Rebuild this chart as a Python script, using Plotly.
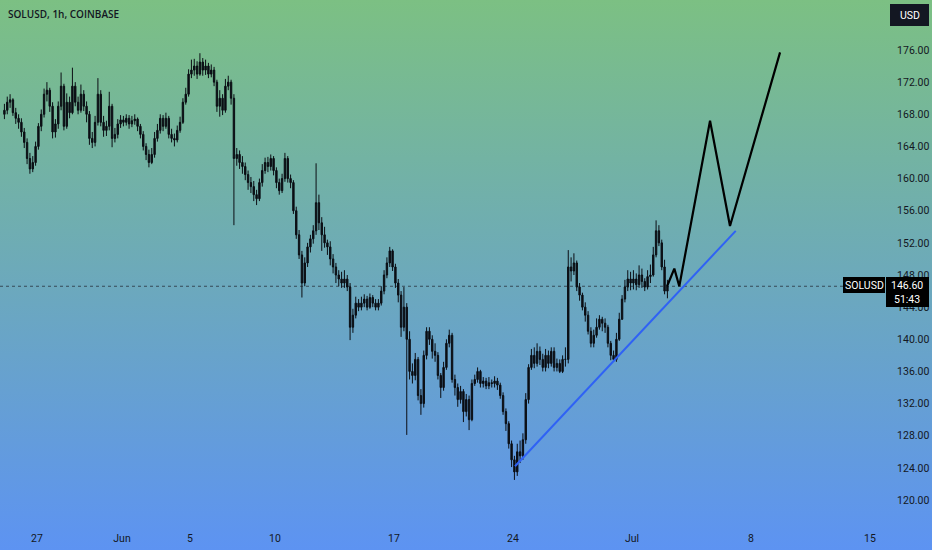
import base64
import pandas as pd
import plotly.graph_objects as go

# ---------------- data (4h candles) ----------------
first_open = 168.0
closes = [
    168.5, 169.5, 169.8, 168.2, 167.5, 167.0,   # May 25
    165.8, 164.5, 162.5, 161.2, 162.0, 164.0,   # May 26
    166.5, 168.0, 170.5, 171.0, 169.0, 165.8,   # May 27
    166.8, 169.0, 171.5, 166.5, 169.5, 168.2,   # May 28
    171.5, 169.5, 168.5, 170.5, 169.0, 168.0,   # May 29
    165.0, 164.5, 167.0, 170.5, 167.0, 166.0,   # May 30
    166.5, 169.0, 165.0, 165.5, 166.8, 167.3,   # May 31
    167.0, 167.5, 166.8, 167.2, 167.4, 166.5,   # Jun 1
    165.5, 164.0, 163.0, 162.0, 163.0, 165.0,   # Jun 2
    166.0, 167.5, 166.5, 167.5, 165.5, 165.0,   # Jun 3
    164.8, 166.0, 167.0, 169.5, 170.5, 173.0,   # Jun 4
    173.5, 174.0, 173.0, 174.5, 173.5, 174.0,   # Jun 5
    173.0, 173.5, 172.0, 169.0, 170.0, 168.5,   # Jun 6
    171.5, 172.0, 170.0, 162.5, 163.0, 162.0,   # Jun 7
    161.5, 160.5, 159.5, 159.0, 158.0, 157.5,   # Jun 8
    159.5, 161.0, 162.0, 161.5, 162.5, 161.0,   # Jun 9
    159.5, 158.5, 160.0, 162.5, 160.0, 159.5,   # Jun 10
    156.0, 153.0, 150.5, 147.0, 149.5, 151.5,   # Jun 11
    152.5, 153.5, 157.0, 154.5, 153.0, 152.0,   # Jun 12
    151.5, 150.0, 149.0, 148.0, 147.5, 147.0,   # Jun 13
    147.5, 146.5, 141.5, 143.0, 144.5, 144.0,   # Jun 14
    144.5, 145.0, 144.0, 145.2, 144.5, 144.0,   # Jun 15
    144.5, 146.0, 148.0, 149.5, 151.0, 149.0,   # Jun 16
    147.0, 145.5, 141.5, 144.0, 140.0, 136.0,   # Jun 17
    135.5, 137.5, 133.0, 132.0, 138.0, 141.0,   # Jun 18
    140.0, 138.5, 138.0, 135.5, 134.0, 136.5,   # Jun 19
    139.5, 140.5, 135.0, 134.0, 132.5, 133.5,   # Jun 20
    131.0, 132.5, 130.0, 134.5, 135.0, 136.0,   # Jun 21
    134.5, 134.8, 134.2, 134.6, 134.5, 134.8,   # Jun 22
    134.3, 133.0, 131.0, 129.5, 127.0, 125.0,   # Jun 23
    123.5, 126.0, 125.5, 127.5, 132.5, 136.5,   # Jun 24
    138.0, 137.0, 138.5, 137.5, 136.5, 138.0,   # Jun 25
    137.0, 138.5, 136.5, 137.0, 136.0, 137.5,   # Jun 26
    137.5, 149.0, 148.5, 149.5, 146.5, 145.5,   # Jun 27
    144.0, 143.0, 141.0, 139.5, 140.5, 141.5,   # Jun 28
    142.5, 142.0, 141.5, 139.5, 138.0, 137.5,   # Jun 29
    140.0, 142.5, 145.0, 146.5, 147.5, 147.0,   # Jun 30
    147.5, 146.8, 148.0, 147.2, 146.5, 147.8,   # Jul 1
    148.0, 150.5, 153.5, 152.0, 149.0, 146.0,   # Jul 2
    146.6,                                      # Jul 3
]
highs = [
    169.3, 170.2, 170.5, 170.0, 168.8, 168.0,
    167.5, 166.3, 165.0, 163.2, 162.8, 164.6,
    166.9, 168.6, 171.2, 172.0, 171.3, 169.5,
    167.4, 169.6, 173.2, 171.8, 170.6, 170.2,
    173.8, 172.0, 170.2, 171.7, 171.0, 169.6,
    168.4, 165.8, 167.8, 172.5, 171.0, 167.8,
    167.2, 170.8, 169.3, 166.3, 167.4, 167.9,
    167.8, 168.0, 167.9, 167.8, 168.0, 167.6,
    166.8, 165.9, 164.4, 163.6, 163.8, 165.8,
    166.8, 168.0, 167.9, 168.2, 167.8, 166.2,
    165.6, 166.6, 167.7, 170.0, 171.3, 173.6,
    174.8, 174.9, 174.6, 175.6, 175.0, 174.8,
    174.4, 174.2, 173.9, 172.3, 171.0, 170.5,
    172.4, 172.8, 172.3, 170.5, 163.8, 163.5,
    162.8, 162.0, 161.0, 160.2, 159.7, 158.6,
    160.0, 161.8, 162.6, 162.7, 163.0, 162.8,
    161.4, 160.0, 160.6, 163.2, 162.8, 160.5,
    159.8, 156.5, 153.6, 151.0, 150.2, 152.0,
    153.0, 154.2, 161.9, 158.0, 155.2, 154.0,
    152.4, 152.2, 150.6, 149.5, 148.6, 148.4,
    148.6, 148.0, 147.0, 143.8, 145.3, 145.0,
    145.3, 145.6, 145.4, 145.7, 145.5, 145.0,
    145.0, 146.6, 148.6, 150.2, 151.5, 151.2,
    149.4, 147.5, 146.0, 146.5, 144.5, 141.0,
    137.0, 138.3, 137.8, 133.8, 138.6, 141.5,
    141.5, 140.5, 139.5, 138.4, 135.8, 137.2,
    140.0, 141.2, 140.8, 135.6, 134.5, 134.2,
    133.8, 133.2, 133.0, 135.0, 135.6, 136.5,
    136.2, 135.3, 135.2, 135.3, 135.0, 135.4,
    135.2, 134.6, 133.4, 131.4, 129.8, 127.4,
    125.5, 127.0, 127.4, 128.3, 133.3, 136.9,
    138.8, 139.0, 139.5, 139.1, 138.2, 138.8,
    138.6, 139.0, 139.0, 137.6, 137.5, 138.0,
    139.0, 151.1, 150.2, 150.7, 149.8, 147.0,
    145.8, 144.6, 143.5, 141.5, 141.2, 142.6,
    143.0, 142.8, 142.6, 141.8, 139.8, 138.6,
    140.8, 143.3, 145.5, 147.4, 148.6, 148.4,
    148.6, 148.2, 149.2, 148.8, 147.6, 148.6,
    149.3, 151.5, 154.8, 154.2, 152.4, 149.9,
    147.4,
]
lows = [
    167.4, 168.0, 168.8, 167.8, 166.8, 166.2,
    165.2, 163.8, 161.8, 160.6, 160.8, 161.6,
    163.6, 165.9, 167.6, 169.6, 168.3, 165.0,
    165.1, 166.2, 168.5, 166.0, 166.2, 167.5,
    168.0, 169.0, 168.0, 168.2, 168.4, 167.0,
    164.2, 163.8, 164.0, 166.6, 166.5, 165.2,
    165.3, 166.0, 163.9, 164.5, 165.0, 166.3,
    166.5, 166.6, 166.2, 166.4, 166.7, 165.9,
    165.0, 163.5, 162.3, 161.4, 161.8, 162.6,
    164.6, 165.6, 165.9, 166.2, 165.0, 164.5,
    164.0, 164.5, 165.7, 166.8, 169.2, 170.2,
    172.5, 172.8, 172.4, 172.8, 172.8, 172.9,
    172.5, 172.6, 171.5, 168.3, 167.7, 167.9,
    168.2, 171.0, 169.2, 154.2, 161.6, 161.2,
    160.6, 159.8, 158.6, 158.2, 157.2, 156.7,
    157.2, 159.0, 160.6, 160.8, 161.0, 160.4,
    158.8, 158.0, 158.2, 159.6, 159.5, 158.8,
    155.6, 152.5, 150.0, 145.2, 146.6, 149.0,
    150.8, 151.9, 153.0, 153.6, 151.0, 151.4,
    150.5, 149.2, 148.2, 147.0, 146.6, 146.4,
    146.4, 146.0, 139.9, 140.8, 142.6, 143.5,
    143.6, 144.0, 143.6, 143.8, 144.0, 143.6,
    143.6, 144.2, 145.6, 147.6, 149.0, 148.5,
    146.4, 144.6, 140.3, 141.0, 128.1, 135.0,
    134.5, 134.9, 132.4, 130.6, 131.5, 137.5,
    139.3, 137.6, 137.2, 135.0, 132.7, 133.6,
    136.2, 139.0, 134.6, 133.0, 131.6, 132.0,
    129.7, 130.4, 128.7, 129.8, 134.2, 134.6,
    134.0, 134.0, 133.8, 133.8, 134.0, 134.0,
    133.7, 132.6, 130.6, 128.6, 126.4, 124.1,
    122.5, 123.0, 124.6, 125.0, 127.0, 132.0,
    136.2, 136.4, 136.6, 136.8, 136.0, 136.0,
    136.4, 136.6, 136.0, 136.0, 135.8, 135.8,
    136.6, 137.0, 147.2, 148.0, 146.0, 144.8,
    143.6, 142.2, 140.6, 139.0, 139.0, 140.2,
    141.2, 141.0, 140.8, 139.0, 137.4, 137.2,
    137.2, 139.8, 142.4, 144.6, 146.0, 146.1,
    146.2, 146.1, 146.4, 146.4, 146.0, 146.2,
    147.0, 147.8, 150.2, 151.6, 148.6, 145.6,
    145.1,
]
opens = [first_open] + closes[:-1]
candle_times = pd.date_range("2024-05-25 02:00", periods=len(closes), freq="4h")

# projected path (black) and trend line (blue)
proj_dates = ["2024-07-03 01:30", "2024-07-03 11:45", "2024-07-03 18:45",
              "2024-07-05 14:10", "2024-07-06 18:20", "2024-07-09 17:00"]
proj_prices = [146.6, 148.8, 146.6, 167.2, 154.1, 175.7]
trend_dates = ["2024-06-24 02:50", "2024-07-07 02:25"]
trend_prices = [124.2, 153.5]

last_price = 146.60
price_ticks = [120, 124, 128, 132, 136, 140, 144, 148, 152, 156, 160, 164, 168, 172, 176]
date_ticks = ["2024-05-27", "2024-06-01", "2024-06-05", "2024-06-10", "2024-06-17",
              "2024-06-24", "2024-07-01", "2024-07-08", "2024-07-15"]
date_tick_labels = ["27", "Jun", "5", "10", "17", "24", "Jul", "8", "15"]

# ---------------- layout geometry ----------------
W, H = 932, 550
PLOT_W, PLOT_H = 885, 520


def px_x(px):
    return px / PLOT_W


def px_y(py):
    return 1 - py / PLOT_H


svg = (
    f"<svg xmlns='http://www.w3.org/2000/svg' width='{W}' height='{H}' viewBox='0 0 {W} {H}' preserveAspectRatio='none'>"
    "<defs><linearGradient id='g' x1='0' y1='0' x2='0' y2='1'>"
    "<stop offset='0' stop-color='rgb(124,192,131)'/>"
    "<stop offset='1' stop-color='rgb(93,147,242)'/>"
    "</linearGradient></defs>"
    f"<rect x='0' y='0' width='{W}' height='{H}' fill='url(#g)'/></svg>"
)
svg_uri = "data:image/svg+xml;base64," + base64.b64encode(svg.encode()).decode()

fig = go.Figure()
fig.add_trace(go.Candlestick(
    x=candle_times, open=opens, high=highs, low=lows, close=closes,
    increasing=dict(line=dict(color="#0b0e14", width=1), fillcolor="#0b0e14"),
    decreasing=dict(line=dict(color="#0b0e14", width=1), fillcolor="#0b0e14"),
    whiskerwidth=0, showlegend=False, hoverinfo="skip",
))
fig.add_trace(go.Scatter(
    x=trend_dates, y=trend_prices, mode="lines",
    line=dict(color="#2f62f5", width=2), showlegend=False, hoverinfo="skip",
))
fig.add_trace(go.Scatter(
    x=proj_dates, y=proj_prices, mode="lines",
    line=dict(color="#000000", width=2.2), showlegend=False, hoverinfo="skip",
))

shapes = [
    # current price dotted line
    dict(type="line", xref="paper", yref="y", x0=0, x1=1, y0=last_price, y1=last_price,
         line=dict(color="rgba(40,50,60,0.8)", width=1, dash="dot"), layer="below"),
    # SOLUSD label box
    dict(type="rect", xref="paper", yref="paper", x0=px_x(843), x1=px_x(885),
         y0=px_y(293), y1=px_y(277), fillcolor="#000000", line=dict(width=0), layer="above"),
    # price / countdown box
    dict(type="rect", xref="paper", yref="paper", x0=px_x(886), x1=px_x(929),
         y0=px_y(307), y1=px_y(277), fillcolor="#000000", line=dict(width=0), layer="above"),
    # USD button
    dict(type="rect", xref="paper", yref="paper", x0=px_x(890), x1=px_x(929),
         y0=px_y(26), y1=px_y(4), fillcolor="#131722", line=dict(width=0), layer="above"),
]

ann_font = dict(family="Roboto, Arial, sans-serif", size=10.5, color="#ffffff")
annotations = [
    dict(text="SOLUSD, 1h, COINBASE", xref="paper", yref="paper", x=px_x(6), y=px_y(14),
         xanchor="left", yanchor="middle", showarrow=False,
         font=dict(family="Open Sans, Arial, sans-serif", size=10, color="#131722", weight=600)),
    dict(text="SOLUSD", xref="paper", yref="paper", x=px_x(864), y=px_y(285),
         xanchor="center", yanchor="middle", showarrow=False, font=ann_font),
    dict(text=f"{last_price:.2f}", xref="paper", yref="paper", x=px_x(907.5), y=px_y(285),
         xanchor="center", yanchor="middle", showarrow=False, font=ann_font),
    dict(text="51:43", xref="paper", yref="paper", x=px_x(907.5), y=px_y(299),
         xanchor="center", yanchor="middle", showarrow=False, font=ann_font),
    dict(text="USD", xref="paper", yref="paper", x=px_x(909.5), y=px_y(15),
         xanchor="center", yanchor="middle", showarrow=False, font=ann_font),
]

y_top = 176 + 50 / 8.036
y_bot = 176 - 470 / 8.036

fig.update_layout(
    width=W, height=H,
    margin=dict(l=0, r=W - PLOT_W, t=0, b=H - PLOT_H),
    paper_bgcolor="rgb(108,170,186)",
    plot_bgcolor="rgba(0,0,0,0)",
    images=[dict(source=svg_uri, xref="paper", yref="paper", x=0, y=1,
                 sizex=W / PLOT_W, sizey=H / PLOT_H, xanchor="left", yanchor="top",
                 sizing="stretch", layer="below")],
    shapes=shapes,
    annotations=annotations,
    showlegend=False,
    xaxis=dict(
        range=["2024-05-24 19:46", "2024-07-15 21:10"],
        rangeslider=dict(visible=False),
        showgrid=False, zeroline=False, showline=False,
        tickmode="array", tickvals=date_ticks, ticktext=date_tick_labels,
        tickfont=dict(family="Roboto, Arial, sans-serif", size=10.5, color="#131722"),
        ticks="outside", ticklen=8, tickcolor="rgba(0,0,0,0)",
    ),
    yaxis=dict(
        side="right", range=[y_bot, y_top],
        showgrid=False, zeroline=False, showline=False,
        tickmode="array", tickvals=price_ticks, ticktext=[f"{v:.2f}" for v in price_ticks],
        tickfont=dict(family="Roboto, Arial, sans-serif", size=10.5, color="#131722"),
        ticks="outside", ticklen=9, tickcolor="rgba(0,0,0,0)",
    ),
)

fig.write_html(
    "out.html",
    config={"displayModeBar": False},
    post_script="document.body.style.margin='0';document.body.style.overflow='hidden';",
)
